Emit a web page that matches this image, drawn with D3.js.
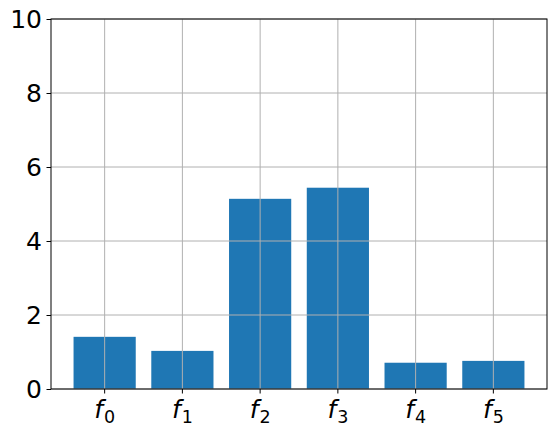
<!DOCTYPE html>
<html>
<head>
<meta charset="utf-8">
<script src="https://cdn.jsdelivr.net/npm/d3@7.9.0/dist/d3.min.js"></script>
<style>
  body { margin: 0; background: #fff; }
  text { font-family: "DejaVu Sans", sans-serif; }
</style>
</head>
<body>
<div id="chart"></div>
<script>
// data
const categories = ["0", "1", "2", "3", "4", "5"];
const values = [1.41, 1.03, 5.14, 5.44, 0.71, 0.76];
const yTicks = [0, 2, 4, 6, 8, 10];

const W = 560, H = 436;
const plotLeft = 51, plotRight = 547, plotTop = 19, plotBottom = 389;

const svg = d3.select("#chart").append("svg")
  .attr("width", W)
  .attr("height", H);

// bars 0.8 wide, matplotlib-like 5% margins
const x = d3.scaleBand()
  .domain(categories)
  .range([plotLeft, plotRight])
  .paddingInner(0.2)
  .paddingOuter(0.29);

const y = d3.scaleLinear()
  .domain([0, 10])
  .range([plotBottom, plotTop]);

// bars
svg.append("g")
  .selectAll("rect")
  .data(values)
  .join("rect")
    .attr("x", (d, i) => x(categories[i]))
    .attr("y", d => y(d))
    .attr("width", x.bandwidth())
    .attr("height", d => y(0) - y(d))
    .attr("fill", "#1f77b4");

// grid lines, drawn over the bars
const grid = svg.append("g")
  .attr("stroke", "#b0b0b0")
  .attr("stroke-width", 1);

grid.selectAll(".gx")
  .data(categories)
  .join("line")
    .attr("x1", d => x(d) + x.bandwidth() / 2)
    .attr("x2", d => x(d) + x.bandwidth() / 2)
    .attr("y1", plotTop)
    .attr("y2", plotBottom);

grid.selectAll(".gy")
  .data(yTicks)
  .join("line")
    .attr("x1", plotLeft)
    .attr("x2", plotRight)
    .attr("y1", d => y(d))
    .attr("y2", d => y(d));

// y axis
const yAxis = svg.append("g")
  .attr("transform", `translate(${plotLeft},0)`)
  .call(d3.axisLeft(y).tickValues(yTicks).tickSize(4.5).tickPadding(4.5));
yAxis.select(".domain").remove();
yAxis.selectAll("text")
  .attr("font-size", 25)
  .attr("fill", "#000");

// x axis with mathtext-like labels f_i
const xAxis = svg.append("g")
  .attr("transform", `translate(0,${plotBottom})`)
  .call(d3.axisBottom(x).tickSizeOuter(0).tickSize(4.5).tickFormat(""));
xAxis.select(".domain").remove();

xAxis.selectAll(".tick").append("text")
  .attr("y", 28.5)
  .attr("text-anchor", "middle")
  .attr("fill", "#000")
  .each(function (d) {
    const t = d3.select(this);
    t.append("tspan")
      .attr("font-style", "italic")
      .attr("font-size", 25)
      .text("f");
    t.append("tspan")
      .attr("font-size", 17.5)
      .attr("dy", 5.5)
      .attr("dx", 1)
      .text(d);
  });

// frame
svg.append("rect")
  .attr("x", plotLeft)
  .attr("y", plotTop)
  .attr("width", plotRight - plotLeft)
  .attr("height", plotBottom - plotTop)
  .attr("fill", "none")
  .attr("stroke", "#000")
  .attr("stroke-width", 1);
</script>
</body>
</html>
